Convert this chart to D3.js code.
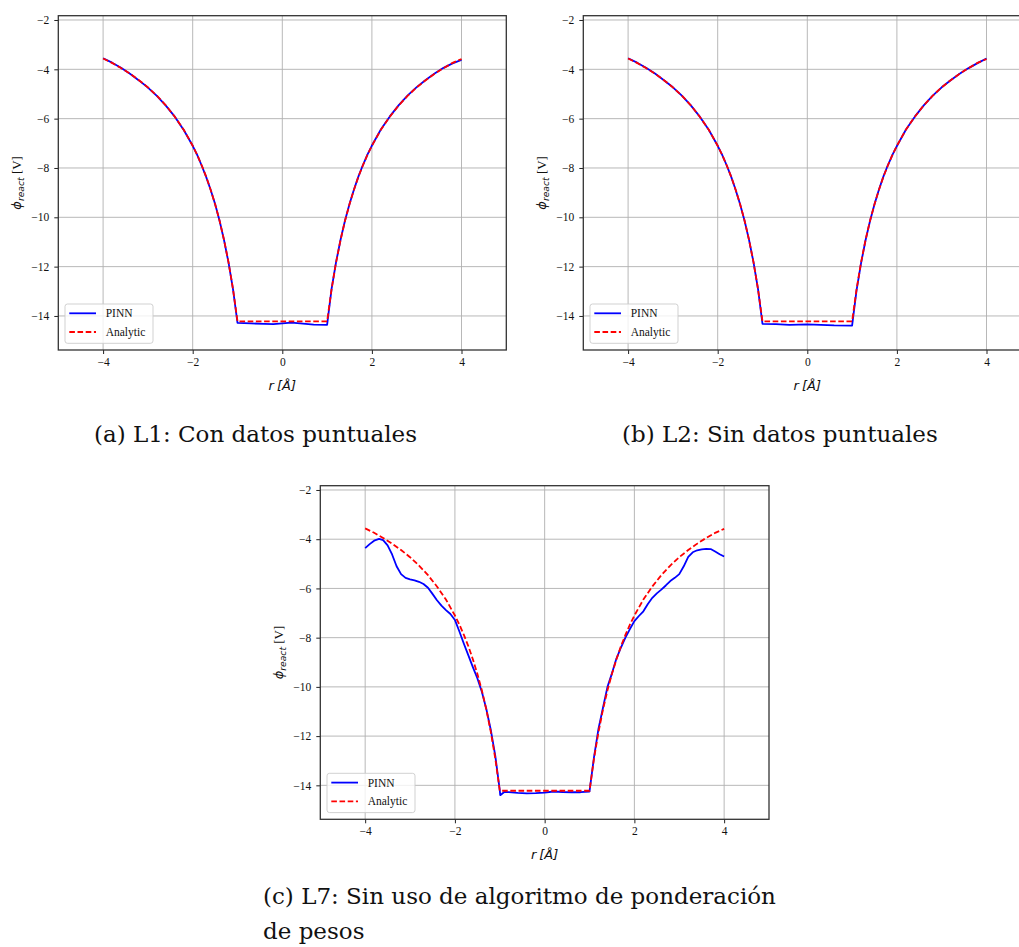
<!DOCTYPE html>
<html>
<head>
<meta charset="utf-8">
<script src="https://cdn.jsdelivr.net/npm/d3@7"></script>
<style>
  body { margin: 0; background: #fff; }
  svg { display: block; }
</style>
</head>
<body>
<svg id="fig" width="1019" height="947"></svg>
<script>
// ---- data: reaction potential along r (Å) ----
const xTicks = [-4, -2, 0, 2, 4];
const yTicks = [-14, -12, -10, -8, -6, -4, -2];

// analytic solution (shared by all three panels)
const analyticR = [-4.0,-3.8,-3.6,-3.4,-3.2,-3.0,-2.8,-2.6,-2.4,-2.2,
  -2.0,-1.9,-1.8,-1.7,-1.6,-1.5,-1.4,-1.3,-1.2,-1.1,-1.0,
  -0.5,0.0,0.5,
  1.0,1.1,1.2,1.3,1.4,1.5,1.6,1.7,1.8,1.9,2.0,
  2.2,2.4,2.6,2.8,3.0,3.2,3.4,3.6,3.8,4.0];
const analyticPhi = [-3.56,-3.74,-3.95,-4.18,-4.44,-4.73,-5.07,-5.46,-5.92,-6.45,
  -7.10,-7.47,-7.89,-8.35,-8.88,-9.47,-10.14,-10.92,-11.83,-12.91,-14.22,
  -14.22,-14.22,-14.22,
  -14.22,-12.91,-11.83,-10.92,-10.14,-9.47,-8.88,-8.35,-7.89,-7.47,-7.10,
  -6.45,-5.92,-5.46,-5.07,-4.73,-4.44,-4.18,-3.95,-3.74,-3.58];

// PINN, L1 (with point data)
const pinnL1R = [-4.0,-3.8,-3.6,-3.4,-3.2,-3.0,-2.8,-2.6,-2.4,-2.2,
  -2.0,-1.9,-1.8,-1.7,-1.6,-1.5,-1.4,-1.3,-1.2,-1.1,-1.0,
  -0.7,-0.4,-0.2,0.0,0.2,0.4,0.7,
  1.0,1.1,1.2,1.3,1.4,1.5,1.6,1.7,1.8,1.9,2.0,
  2.2,2.4,2.6,2.8,3.0,3.2,3.4,3.6,3.8,4.0];
const pinnL1Phi = [-3.55,-3.73,-3.94,-4.18,-4.45,-4.74,-5.08,-5.47,-5.92,-6.46,
  -7.10,-7.47,-7.90,-8.36,-8.88,-9.46,-10.14,-10.93,-11.84,-12.92,-14.28,
  -14.30,-14.32,-14.33,-14.30,-14.27,-14.30,-14.35,
  -14.36,-12.90,-11.82,-10.91,-10.13,-9.46,-8.87,-8.34,-7.88,-7.46,-7.09,
  -6.44,-5.91,-5.45,-5.06,-4.72,-4.43,-4.17,-3.94,-3.76,-3.62];

// PINN, L2 (without point data)
const pinnL2R = [-4.0,-3.8,-3.6,-3.4,-3.2,-3.0,-2.8,-2.6,-2.4,-2.2,
  -2.0,-1.9,-1.8,-1.7,-1.6,-1.5,-1.4,-1.3,-1.2,-1.1,-1.0,
  -0.7,-0.4,-0.2,0.0,0.3,0.6,
  1.0,1.1,1.2,1.3,1.4,1.5,1.6,1.7,1.8,1.9,2.0,
  2.2,2.4,2.6,2.8,3.0,3.2,3.4,3.6,3.8,4.0];
const pinnL2Phi = [-3.55,-3.73,-3.94,-4.17,-4.44,-4.73,-5.07,-5.46,-5.92,-6.45,
  -7.10,-7.47,-7.89,-8.35,-8.88,-9.47,-10.14,-10.92,-11.83,-12.91,-14.32,
  -14.33,-14.36,-14.35,-14.34,-14.36,-14.38,
  -14.39,-12.95,-11.86,-10.93,-10.15,-9.47,-8.87,-8.34,-7.88,-7.47,-7.11,
  -6.45,-5.92,-5.46,-5.07,-4.73,-4.44,-4.18,-3.95,-3.75,-3.56];

// PINN, L7 (no loss-weighting algorithm)
const pinnL7R = [-4.0,-3.9,-3.8,-3.69,-3.6,-3.5,-3.4,-3.3,-3.2,-3.1,-3.0,
  -2.9,-2.8,-2.7,-2.6,-2.5,-2.4,-2.3,-2.2,-2.1,-2.0,
  -1.9,-1.8,-1.7,-1.6,-1.5,-1.4,-1.3,-1.2,-1.1,-1.0,-0.99,
  -0.9,-0.8,-0.6,-0.4,-0.2,0.0,0.2,0.4,0.6,0.8,1.0,
  1.1,1.2,1.3,1.4,1.5,1.6,1.7,1.8,1.9,2.0,
  2.1,2.2,2.3,2.4,2.5,2.6,2.7,2.8,2.9,3.0,
  3.1,3.2,3.3,3.4,3.5,3.6,3.7,3.8,3.9,4.0];
const pinnL7Phi = [-4.36,-4.20,-4.06,-3.99,-4.04,-4.25,-4.62,-5.10,-5.42,-5.57,-5.63,
  -5.67,-5.73,-5.82,-5.97,-6.22,-6.48,-6.70,-6.88,-7.04,-7.28,
  -7.75,-8.25,-8.72,-9.20,-9.65,-10.20,-10.90,-11.75,-12.80,-14.20,-14.40,
  -14.27,-14.28,-14.31,-14.33,-14.32,-14.30,-14.25,-14.27,-14.28,-14.28,-14.25,
  -12.85,-11.70,-10.85,-10.00,-9.45,-8.85,-8.40,-8.00,-7.65,-7.33,
  -7.12,-6.93,-6.63,-6.38,-6.20,-6.05,-5.88,-5.70,-5.57,-5.42,
  -5.10,-4.72,-4.53,-4.45,-4.41,-4.39,-4.40,-4.50,-4.61,-4.70];

const xDomain = [-5, 5];
const yDomain = [-15.38, -1.826];

const seriesLabels = ["PINN", "Analytic"];
const captions = [
  { lines: ["(a) L1: Con datos puntuales"], x: 94, y: 442 },
  { lines: ["(b) L2: Sin datos puntuales"], x: 622, y: 442 },
  { lines: ["(c) L7: Sin uso de algoritmo de ponderación", "de pesos"], x: 263, y: 903.5 }
];

// ---- layout ----
const panels = [
  { left: 58.3,  top: 15.7,  w: 448, h: 334.3, pr: pinnL1R, pp: pinnL1Phi },
  { left: 583.3, top: 15.7,  w: 448, h: 334.3, pr: pinnL2R, pp: pinnL2Phi },
  { left: 320.3, top: 485.7, w: 448.7, h: 333.6, pr: pinnL7R, pp: pinnL7Phi }
];

const svg = d3.select("#fig");
const TICK_FONT = "'Liberation Serif', 'Times New Roman', serif";
const MATH_FONT = "'DejaVu Sans', sans-serif";
const fmt = d => d < 0 ? "\u2212" + Math.abs(d) : String(d);

panels.forEach(p => {
  const g = svg.append("g").attr("transform", `translate(${p.left},${p.top})`);
  const x = d3.scaleLinear().domain(xDomain).range([0, p.w]);
  const y = d3.scaleLinear().domain(yDomain).range([p.h, 0]);

  // grid
  g.append("g").selectAll("line").data(xTicks).join("line")
    .attr("x1", d => x(d)).attr("x2", d => x(d))
    .attr("y1", 0).attr("y2", p.h)
    .attr("stroke", "#b0b0b0").attr("stroke-width", 0.9);
  g.append("g").selectAll("line").data(yTicks).join("line")
    .attr("x1", 0).attr("x2", p.w)
    .attr("y1", d => y(d)).attr("y2", d => y(d))
    .attr("stroke", "#b0b0b0").attr("stroke-width", 0.9);

  // curves
  const line = d3.line().x(d => x(d[0])).y(d => y(d[1]));
  const pinn = p.pr.map((r, i) => [r, p.pp[i]]);
  const analytic = analyticR.map((r, i) => [r, analyticPhi[i]]);
  g.append("path").datum(pinn).attr("d", line)
    .attr("fill", "none").attr("stroke", "#0000ff").attr("stroke-width", 1.8)
    .attr("stroke-linejoin", "round");
  g.append("path").datum(analytic).attr("d", line)
    .attr("fill", "none").attr("stroke", "#ff0000").attr("stroke-width", 1.8)
    .attr("stroke-dasharray", "5.6,2.6");

  // axes
  const ax = g.append("g").attr("transform", `translate(0,${p.h})`)
    .call(d3.axisBottom(x).tickValues(xTicks).tickFormat(fmt).tickSize(4).tickPadding(4));
  const ay = g.append("g")
    .call(d3.axisLeft(y).tickValues(yTicks).tickFormat(fmt).tickSize(4).tickPadding(5));
  [ax, ay].forEach(a => {
    a.select(".domain").remove();
    a.selectAll(".tick line").attr("stroke", "#222").attr("stroke-width", 1);
    a.selectAll(".tick text").attr("font-family", TICK_FONT).attr("font-size", 11.5).attr("fill", "#111");
  });

  // spines
  g.append("rect").attr("x", 0).attr("y", 0).attr("width", p.w).attr("height", p.h)
    .attr("fill", "none").attr("stroke", "#333").attr("stroke-width", 1.3);

  // axis labels
  const xl = g.append("text").attr("x", p.w / 2).attr("y", p.h + 40)
    .attr("text-anchor", "middle").attr("font-size", 13).attr("fill", "#111");
  xl.append("tspan").attr("font-family", MATH_FONT).attr("font-style", "italic").text("r");
  xl.append("tspan").attr("font-family", MATH_FONT).attr("font-style", "italic").attr("dx", 3).text("[Å]");

  const yl = g.append("text")
    .attr("transform", `translate(${-37},${p.h / 2}) rotate(-90)`)
    .attr("text-anchor", "middle").attr("font-size", 13).attr("fill", "#111");
  yl.append("tspan").attr("font-family", MATH_FONT).attr("font-style", "italic").text("ϕ");
  yl.append("tspan").attr("font-family", MATH_FONT).attr("font-style", "italic")
    .attr("font-size", 9.2).attr("dy", 2.5).text("react");
  yl.append("tspan").attr("font-family", TICK_FONT).attr("dy", -2.5).text(" [V]");

  // legend
  const lg = g.append("g").attr("transform", `translate(6.7,${p.h - 46})`);
  lg.append("rect").attr("width", 88).attr("height", 39.3).attr("rx", 2.5)
    .attr("fill", "#fff").attr("fill-opacity", 0.8).attr("stroke", "#cccccc").attr("stroke-width", 0.9);
  const rows = [
    { label: seriesLabels[0], color: "#0000ff", dash: null, yy: 9.3 },
    { label: seriesLabels[1], color: "#ff0000", dash: "5.6,2.6", yy: 28 }
  ];
  rows.forEach(rw => {
    lg.append("line").attr("x1", 4.3).attr("x2", 31).attr("y1", rw.yy).attr("y2", rw.yy)
      .attr("stroke", rw.color).attr("stroke-width", 1.8)
      .attr("stroke-dasharray", rw.dash);
    lg.append("text").attr("x", 40.7).attr("y", rw.yy).attr("dy", "0.35em")
      .attr("font-family", TICK_FONT).attr("font-size", 11.5).attr("fill", "#111").text(rw.label);
  });
});

// sub-figure captions
captions.forEach(c => {
  c.lines.forEach((ln, i) => {
    svg.append("text").attr("x", c.x).attr("y", c.y + i * 35)
      .attr("font-family", "'DejaVu Serif', serif").attr("font-size", 23)
      .attr("fill", "#111").text(ln);
  });
});
</script>
</body>
</html>
